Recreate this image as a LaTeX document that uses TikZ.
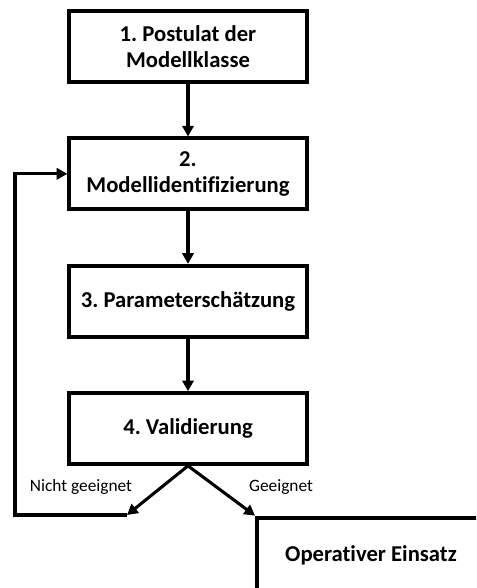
\documentclass[tikz,border=0pt]{standalone}
\usepackage{fontspec}
\setmainfont{Carlito}[Ligatures=NoCommon]
\frenchspacing
\usetikzlibrary{positioning, arrows.meta}
\tikzset{
->, % directed connectors
>={Triangle[length=8pt,width=8.5pt]}, % filled arrow heads
node distance=95.5pt, % centre to centre of the steps
stepbox/.style={draw, line width=3pt, minimum width=178pt, minimum height=53pt, align=center, font=\fontsize{17}{20}\selectfont\bfseries}, % the boxes of the steps
flow/.style={line width=2.3pt}, % the connectors
tag/.style={font=\fontsize{13}{15}\selectfont}, % texts at the branches
}
\begin{document}
\begin{tikzpicture}[x=0.75pt,y=-0.75pt]
\clip (0,0) rectangle (476,588);
\node[stepbox] (m1) at (188,46.5) {1. Postulat der\\Modellklasse};
\node[stepbox, below of=m1] (m2) {2.\\Modellidentifizierung};
\node[stepbox, below of=m2] (m3) {3. Parameterschätzung};
\node[stepbox, below of=m3] (m4) {4. Validierung};
\node[stepbox, minimum width=171pt, minimum height=56pt] (op) at (371,555) {Operativer Einsatz};
\coordinate (nicht) at (127,515);
\coordinate (back) at (15,515);
\node[tag] (lnicht) at (81,487) {Nicht geeignet};
\node[tag] (lgeeig) at (281,487) {Geeignet};
\draw[flow] (m1) -- (m2);
\draw[flow] (m2) -- (m3);
\draw[flow] (m3) -- (m4);
\draw[flow] (m4.south) -- (nicht);
\draw[flow] (m4.south) -- (op.north west);
\draw[flow] (nicht) -- (back) |- (m2.west);
\end{tikzpicture}
\end{document}
